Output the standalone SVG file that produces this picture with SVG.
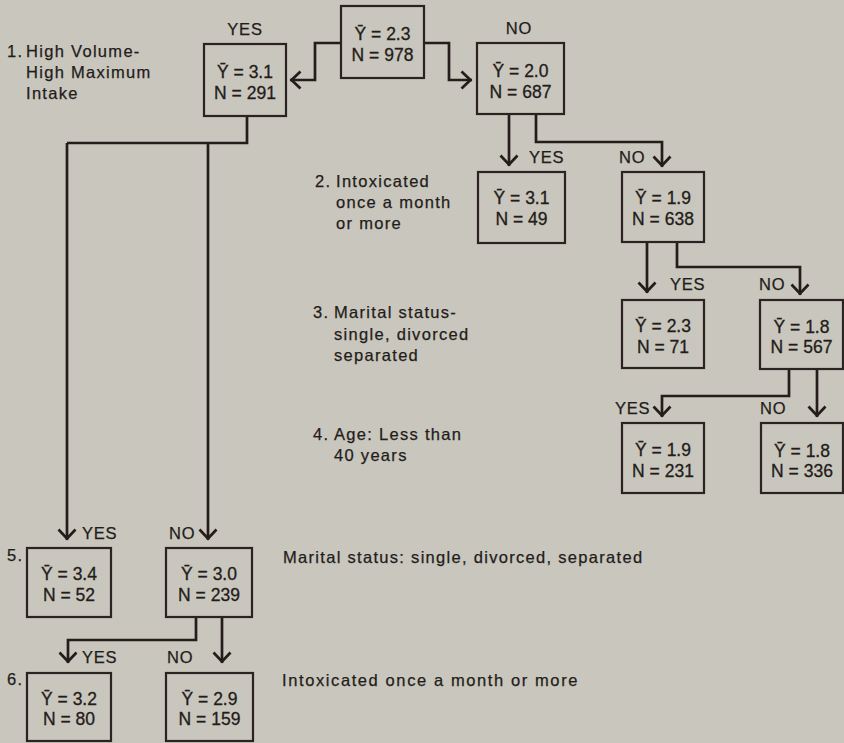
<svg xmlns="http://www.w3.org/2000/svg" width="844" height="743" viewBox="0 0 844 743">
<defs>
<marker id="chev" markerUnits="userSpaceOnUse" markerWidth="24" markerHeight="24" viewBox="-12 -12 24 24" refX="1.5" refY="0" orient="auto">
<path d="M-9,-8.5 L0,0 L-9,8.5" fill="none" stroke="#241d1b" stroke-width="2.7" stroke-linejoin="miter"/>
</marker>
</defs>
<style>
.bg{fill:#c9c6bd}
.box{fill:none;stroke:#2a2321;stroke-width:2.2}
.bt{font-family:"Liberation Sans",Arial,Helvetica,sans-serif;font-size:17.5px;fill:#231c1a;stroke:#231c1a;stroke-width:0.3;text-anchor:middle}
.lab{font-family:"Liberation Sans",Arial,Helvetica,sans-serif;font-size:16.5px;fill:#231c1a;stroke:#231c1a;stroke-width:0.25;letter-spacing:0.8px}
.note{font-family:"Liberation Sans",Arial,Helvetica,sans-serif;font-size:16.5px;fill:#231c1a;stroke:#231c1a;stroke-width:0.25;letter-spacing:1.3px}
.con{fill:none;stroke:#241d1b;stroke-width:2.7;stroke-linejoin:miter}
.arr{marker-end:url(#chev)}
</style>
<rect class="bg" x="0" y="0" width="844" height="743"/>

<g id="connectors">
<path class="con arr" d="M341,43 H315 V80 H290"/>
<path class="con arr" d="M424,43 H449 V80 H472"/>
<path class="con" d="M247,116 V143 H67"/>
<path class="con arr" d="M67,143 V540"/>
<path class="con arr" d="M208,143 V540"/>
<path class="con arr" d="M509,114 V166"/>
<path class="con arr" d="M536,114 V142 H662 V167"/>
<path class="con arr" d="M647,242 V293"/>
<path class="con arr" d="M677,242 V267 H800 V295"/>
<path class="con arr" d="M789,369 V396 H662 V417"/>
<path class="con arr" d="M817,369 V417"/>
<path class="con arr" d="M196,617 V640 H68 V663"/>
<path class="con arr" d="M222,617 V663"/>
</g>

<g id="labels">
<text class="lab" x="245" y="35" text-anchor="middle">YES</text>
<text class="lab" x="519" y="34" text-anchor="middle">NO</text>
<text class="lab" x="529" y="163">YES</text>
<text class="lab" x="619" y="163">NO</text>
<text class="lab" x="670" y="290">YES</text>
<text class="lab" x="759" y="290">NO</text>
<text class="lab" x="615" y="414">YES</text>
<text class="lab" x="760" y="414">NO</text>
<text class="lab" x="82" y="539">YES</text>
<text class="lab" x="169" y="539">NO</text>
<text class="lab" x="82" y="663">YES</text>
<text class="lab" x="167" y="663">NO</text>
</g>

<g id="notes">
<text class="note" x="7" y="57">1.</text>
<text class="note" x="26" y="57">High Volume-</text>
<text class="note" x="26" y="78">High Maximum</text>
<text class="note" x="26" y="99">Intake</text>
<text class="note" x="315" y="187">2.</text>
<text class="note" x="336" y="187">Intoxicated</text>
<text class="note" x="336" y="208">once a month</text>
<text class="note" x="336" y="229">or more</text>
<text class="note" x="313" y="318">3.</text>
<text class="note" x="334" y="318">Marital status-</text>
<text class="note" x="334" y="340">single, divorced</text>
<text class="note" x="334" y="361">separated</text>
<text class="note" x="313" y="440">4.</text>
<text class="note" x="334" y="440">Age: Less than</text>
<text class="note" x="334" y="461">40 years</text>
<text class="note" x="7" y="561">5.</text>
<text class="note" x="7" y="685">6.</text>
<text class="note" x="283" y="563">Marital status: single, divorced, separated</text>
<text class="note" x="282" y="686" style="letter-spacing:1.6px">Intoxicated once a month or more</text>
</g>

<g id="n-root"><rect class="box" x="341" y="6" width="83" height="72"/><text class="bt" x="382.5" y="40">Ȳ = 2.3</text><text class="bt" x="382.5" y="61">N = 978</text></g>
<g id="n-yes1"><rect class="box" x="204" y="44" width="82" height="72"/><text class="bt" x="245" y="78">Ȳ = 3.1</text><text class="bt" x="245" y="99">N = 291</text></g>
<g id="n-no1"><rect class="box" x="477" y="43" width="87" height="71"/><text class="bt" x="520.5" y="77">Ȳ = 2.0</text><text class="bt" x="520.5" y="98">N = 687</text></g>
<g id="n-yes2"><rect class="box" x="478" y="172" width="87" height="71"/><text class="bt" x="521.5" y="204">Ȳ = 3.1</text><text class="bt" x="521.5" y="225">N = 49</text></g>
<g id="n-no2"><rect class="box" x="622" y="172" width="82" height="70"/><text class="bt" x="663" y="204">Ȳ = 1.9</text><text class="bt" x="663" y="225">N = 638</text></g>
<g id="n-yes3"><rect class="box" x="622" y="300" width="82" height="68"/><text class="bt" x="663" y="332">Ȳ = 2.3</text><text class="bt" x="663" y="353">N = 71</text></g>
<g id="n-no3"><rect class="box" x="760" y="300" width="83" height="69"/><text class="bt" x="801.5" y="333">Ȳ = 1.8</text><text class="bt" x="801.5" y="353">N = 567</text></g>
<g id="n-yes4"><rect class="box" x="622" y="423" width="82" height="70"/><text class="bt" x="663" y="456">Ȳ = 1.9</text><text class="bt" x="663" y="477">N = 231</text></g>
<g id="n-no4"><rect class="box" x="761" y="423" width="82" height="70"/><text class="bt" x="802" y="457">Ȳ = 1.8</text><text class="bt" x="802" y="477">N = 336</text></g>
<g id="n-yes5"><rect class="box" x="27" y="548" width="84" height="69"/><text class="bt" x="69" y="580">Ȳ = 3.4</text><text class="bt" x="69" y="601">N = 52</text></g>
<g id="n-no5"><rect class="box" x="166" y="548" width="86" height="69"/><text class="bt" x="209" y="580">Ȳ = 3.0</text><text class="bt" x="209" y="601">N = 239</text></g>
<g id="n-yes6"><rect class="box" x="27" y="673" width="84" height="68"/><text class="bt" x="69" y="705">Ȳ = 3.2</text><text class="bt" x="69" y="725">N = 80</text></g>
<g id="n-no6"><rect class="box" x="166" y="673" width="87" height="68"/><text class="bt" x="209.5" y="705">Ȳ = 2.9</text><text class="bt" x="209.5" y="725">N = 159</text></g>
</svg>
